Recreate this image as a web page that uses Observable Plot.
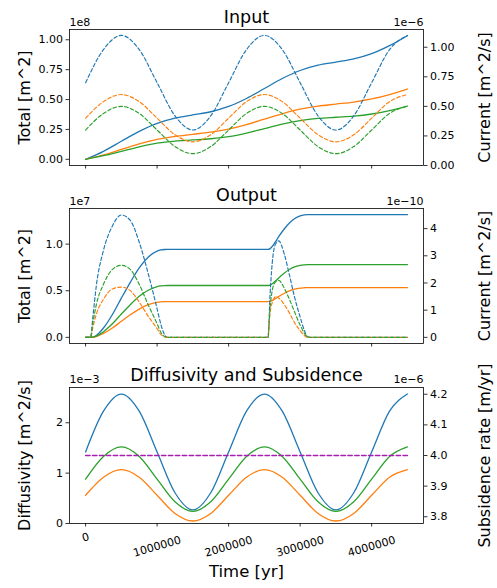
<!DOCTYPE html>
<html><head><meta charset="utf-8">
<script src="https://cdn.jsdelivr.net/npm/d3@7"></script>
<script src="https://cdn.jsdelivr.net/npm/@observablehq/plot@0.6"></script>
<style>
body{margin:0;background:#fff;}
#root{position:relative;width:497px;height:588px;overflow:hidden;font-family:"DejaVu Sans";background:#fff;}
</style></head><body><div id="root"></div>
<script>
// ---------- data ----------
const xTicks = [0, 1000000, 2000000, 3000000, 4000000];

// Input panel (totals in 1e8 m^2, currents in 1e-6 m^2/s)
const tIn = [0,250000,500000,750000,1000000,1250000,1500000,1750000,2000000,2250000,2500000,2750000,3000000,3250000,3500000,3750000,4000000,4250000,4500000];
const inTotBlue   = [0,0.067,0.151,0.234,0.301,0.345,0.372,0.398,0.442,0.509,0.592,0.676,0.743,0.787,0.813,0.840,0.884,0.951,1.034];
const inTotOrange = [0,0.037,0.083,0.129,0.166,0.192,0.209,0.227,0.253,0.290,0.336,0.381,0.419,0.445,0.462,0.479,0.505,0.542,0.588];
const inTotGreen  = [0,0.030,0.067,0.105,0.135,0.153,0.162,0.172,0.189,0.219,0.257,0.295,0.324,0.342,0.352,0.361,0.379,0.408,0.446];
const inCurBlue   = [0.70,0.98,1.10,0.98,0.70,0.42,0.30,0.42,0.70,0.98,1.10,0.98,0.70,0.42,0.30,0.42,0.70,0.98,1.10];
const inCurOrange = [0.40,0.54,0.60,0.54,0.40,0.26,0.20,0.26,0.40,0.54,0.60,0.54,0.40,0.26,0.20,0.26,0.40,0.54,0.60];
const inCurGreen  = [0.30,0.44,0.50,0.44,0.30,0.16,0.10,0.16,0.30,0.44,0.50,0.44,0.30,0.16,0.10,0.16,0.30,0.44,0.50];

// Output panel (totals in 1e7 m^2, currents in 1e-10 m^2/s)
const tOut = [0,70000,100000,150000,250000,375000,500000,625000,750000,875000,1000000,1050000,1100000,1150000,1500000,2000000,2500000,2550000,2580000,2620000,2660000,2700000,2780000,2850000,2920000,3000000,3060000,3100000,3150000,3500000,4000000,4500000];
const outTotBlue   = [0,0,0.003,0.02,0.10,0.245,0.42,0.59,0.745,0.86,0.925,0.937,0.942,0.943,0.943,0.943,0.943,0.943,0.952,0.985,1.03,1.08,1.165,1.227,1.272,1.303,1.313,1.316,1.316,1.316,1.316,1.316];
const outTotOrange = [0,0,0.001,0.008,0.042,0.1,0.172,0.242,0.303,0.35,0.376,0.381,0.383,0.384,0.384,0.384,0.384,0.384,0.388,0.4,0.418,0.438,0.473,0.498,0.516,0.528,0.532,0.534,0.534,0.534,0.534,0.534];
const outTotGreen  = [0,0,0.002,0.012,0.06,0.145,0.25,0.35,0.44,0.505,0.545,0.552,0.555,0.556,0.556,0.556,0.556,0.556,0.561,0.581,0.607,0.637,0.69,0.727,0.755,0.772,0.778,0.78,0.78,0.78,0.78,0.78];
const outCurBlue   = [0,0,0.7,1.9,3.2,4.1,4.5,4.3,3.5,2.35,1.05,0.5,0.12,0,0,0,0,0,1.6,3.0,3.45,3.55,3.05,2.3,1.5,0.75,0.25,0.03,0,0,0,0];
const outCurOrange = [0,0,0.35,0.85,1.4,1.78,1.85,1.72,1.3,0.78,0.32,0.12,0.02,0,0,0,0,0,0.9,1.35,1.5,1.45,1.2,0.9,0.55,0.25,0.07,0,0,0,0,0];
const outCurGreen  = [0,0,0.5,1.2,1.95,2.5,2.65,2.5,1.95,1.2,0.5,0.2,0.04,0,0,0,0,0,1.1,1.85,2.05,2.1,1.8,1.4,0.95,0.45,0.15,0.02,0,0,0,0];

// Diffusivity (1e-3 m^2/s) and subsidence (1e-6 m/yr)
const tDiff = [0,250000,500000,750000,1000000,1250000,1500000,1750000,2000000,2250000,2500000,2750000,3000000,3250000,3500000,3750000,4000000,4250000,4500000];
const diffBlue   = [1.42,2.23,2.57,2.23,1.42,0.61,0.27,0.61,1.42,2.23,2.57,2.23,1.42,0.61,0.27,0.61,1.42,2.23,2.57];
const diffOrange = [0.56,0.92,1.07,0.92,0.56,0.20,0.05,0.20,0.56,0.92,1.07,0.92,0.56,0.20,0.05,0.20,0.56,0.92,1.07];
const diffGreen  = [0.88,1.33,1.52,1.33,0.88,0.43,0.24,0.43,0.88,1.33,1.52,1.33,0.88,0.43,0.24,0.43,0.88,1.33,1.52];
const tSub = [0, 4500000];
const subsidence = [4.0, 4.0];

// ---------- drawing ----------
const W = 497, ML = 69, MR = 74;
const xDomain = [-225000, 4725000];
const C = {blue:"#1f77b4", orange:"#ff7f0e", green:"#2ca02c", purple:"#a81fb0"};
const LW = 1.3, DLW = 1.15, DASH = "3.6,2.3";
const FONT = "DejaVu Sans";

function series(t, v, color, dash, w) {
  return Plot.line(v, {x: (d, i) => t[i], y: d => d, stroke: color, strokeWidth: w || (dash ? DLW : LW),
    strokeDasharray: dash || null, curve: "monotone-x"});
}
function svgStyle(top) {
  return {position: "absolute", left: "0px", top: top + "px", background: "transparent",
    fontFamily: FONT, fontSize: "11px", color: "black", overflow: "visible"};
}

function panel(cfg) {
  const common = {width: W, height: cfg.height, marginLeft: ML, marginRight: MR, marginTop: cfg.mt, marginBottom: cfg.mb};
  const main = Plot.plot({
    ...common, style: svgStyle(cfg.top),
    x: {domain: xDomain}, y: {domain: cfg.leftDomain},
    marks: [
      Plot.axisX({ticks: xTicks, tickSize: 3.5, tickFormat: () => "", label: null, strokeWidth: 0.8}),
      Plot.axisY({anchor: "left", ticks: cfg.leftTicks, tickFormat: cfg.leftFmt, tickSize: 3.5, tickPadding: 3, label: null, fontSize: 11, strokeWidth: 0.8}),
      ...cfg.leftLines,
      Plot.frame({stroke: "black", strokeWidth: 0.8}),
      Plot.text([cfg.title], {frameAnchor: "top", textAnchor: "middle", lineAnchor: "bottom", dy: cfg.titleDy, fontSize: 17.5}),
      Plot.text([cfg.leftOffset], {frameAnchor: "top-left", textAnchor: "start", lineAnchor: "bottom", dy: cfg.offDy, fontSize: 11}),
      Plot.text([cfg.rightOffset], {frameAnchor: "top-right", textAnchor: "end", lineAnchor: "bottom", dy: cfg.offDy, fontSize: 11}),
      Plot.text([cfg.leftLabel], {frameAnchor: "left", textAnchor: "middle", lineAnchor: "middle", rotate: -90, dx: -45, fontSize: 16}),
      Plot.text([cfg.rightLabel], {frameAnchor: "right", textAnchor: "middle", lineAnchor: "middle", rotate: -90, dx: 61.5, fontSize: 16}),
      ...(cfg.extra || [])
    ]
  });
  const over = Plot.plot({
    ...common, style: svgStyle(cfg.top),
    x: {domain: xDomain, axis: null}, y: {domain: cfg.rightDomain},
    marks: [
      Plot.axisY({anchor: "right", ticks: cfg.rightTicks, tickFormat: cfg.rightFmt, tickSize: 3.5, tickPadding: 3, label: null, fontSize: 11, strokeWidth: 0.8}),
      ...cfg.rightLines
    ]
  });
  const root = document.getElementById("root");
  root.appendChild(main);
  root.appendChild(over);
}

panel({
  top: 0, height: 180, mt: 29, mb: 15,
  title: "Input", titleDy: -6.3, offDy: -4,
  leftOffset: "1e8", rightOffset: "1e\u22126",
  leftLabel: "Total [m^2]", rightLabel: "Current [m^2/s]",
  leftDomain: [-0.0517, 1.086], leftTicks: [0, 0.25, 0.5, 0.75, 1.0], leftFmt: ".2f",
  rightDomain: [0, 1.15], rightTicks: [0, 0.25, 0.5, 0.75, 1.0], rightFmt: ".2f",
  leftLines: [series(tIn, inTotBlue, C.blue), series(tIn, inTotOrange, C.orange), series(tIn, inTotGreen, C.green)],
  rightLines: [series(tIn, inCurBlue, C.blue, DASH), series(tIn, inCurOrange, C.orange, DASH), series(tIn, inCurGreen, C.green, DASH)]
});

panel({
  top: 180, height: 180, mt: 28, mb: 17,
  title: "Output", titleDy: -7.2, offDy: -3.7,
  leftOffset: "1e7", rightOffset: "1e\u221210",
  leftLabel: "Total [m^2]", rightLabel: "Current [m^2/s]",
  leftDomain: [-0.066, 1.382], leftTicks: [0, 0.5, 1.0], leftFmt: ".1f",
  rightDomain: [-0.226, 4.74], rightTicks: [0, 1, 2, 3, 4], rightFmt: "d",
  leftLines: [series(tOut, outTotBlue, C.blue), series(tOut, outTotOrange, C.orange), series(tOut, outTotGreen, C.green)],
  rightLines: [series(tOut, outCurBlue, C.blue, DASH), series(tOut, outCurOrange, C.orange, DASH), series(tOut, outCurGreen, C.green, DASH)]
});

panel({
  top: 360, height: 228, mt: 27, mb: 65,
  title: "Diffusivity and Subsidence", titleDy: -7, offDy: -4.7,
  leftOffset: "1e\u22123", rightOffset: "1e\u22126",
  leftLabel: "Diffusivity [m^2/s]", rightLabel: "Subsidence rate [m/yr]",
  leftDomain: [0, 2.7], leftTicks: [0, 1, 2], leftFmt: "d",
  rightDomain: [3.778, 4.222], rightTicks: [3.8, 3.9, 4.0, 4.1, 4.2], rightFmt: ".1f",
  leftLines: [series(tDiff, diffBlue, C.blue), series(tDiff, diffOrange, C.orange), series(tDiff, diffGreen, C.green)],
  rightLines: [series(tSub, subsidence, C.purple, "4.5,2.4", 1.4)],
  extra: [
    Plot.text(xTicks.slice(0, 1), {x: d => d, text: d => String(d), frameAnchor: "bottom", dy: 14, rotate: -16, textAnchor: "middle", lineAnchor: "middle", fontSize: 11}),
    Plot.text(xTicks.slice(1), {x: d => d, text: d => String(d), frameAnchor: "bottom", dy: 23, rotate: -16, textAnchor: "middle", lineAnchor: "middle", fontSize: 11}),
    Plot.text(["Time [yr]"], {frameAnchor: "bottom", textAnchor: "middle", lineAnchor: "bottom", dy: 53.5, fontSize: 16.5})
  ]
});
</script></body></html>
